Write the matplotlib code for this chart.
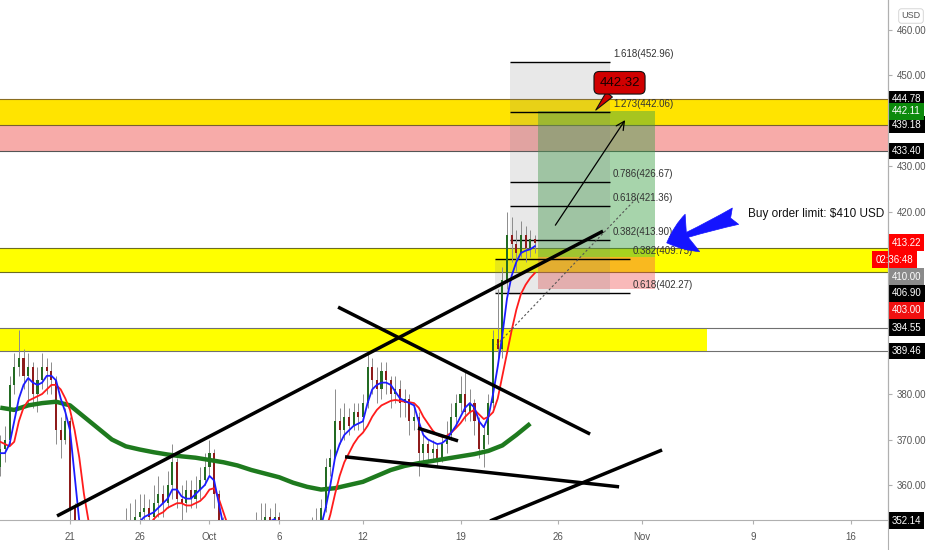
import matplotlib
matplotlib.use("Agg")
import matplotlib.pyplot as plt
import matplotlib.dates as mdates
from matplotlib import font_manager
from matplotlib.transforms import blended_transform_factory
from matplotlib.patches import FancyArrowPatch
from matplotlib.lines import Line2D
from datetime import datetime

# ---------------- data ----------------
base = datetime(2020, 9, 16)
bar_hours = 8
open0 = 364
closes = [368, 370, 382, 386, 388, 384, 386, 380, 383, 386, 385, 383, 372, 370, 374,
          355, 343, 341, 342, 344, 343, 335, 325, 322, 330, 340, 348, 352, 350, 353,
          354, 355, 353, 356, 358, 356, 360, 365, 357, 356, 359, 357, 359, 361, 364,
          367, 358, 352, 345, 342, 346, 348, 346, 347, 349, 351, 352, 353, 352, 353,
          350, 345, 342, 341, 339, 341, 345, 349, 352, 355, 364, 366, 374, 372, 375,
          373, 376, 375, 378, 386, 383, 381, 385, 383, 380, 381, 378, 379, 374, 375,
          367, 369, 367, 368, 366, 369, 371, 375, 378, 380, 376, 378, 374, 368, 371,
          378, 392, 390, 405, 415, 413, 411, 415, 412, 414, 413.22]
highs = [371, 373, 384, 389, 394, 390, 389, 387, 386, 389, 388, 387, 384, 375, 377,
         375, 356, 346, 347, 348, 349, 345, 337, 328, 334, 344, 352, 355, 356, 357,
         358, 358, 357, 360, 362, 360, 363, 369, 366, 360, 361, 361, 362, 364, 367,
         370, 368, 359, 353, 347, 349, 351, 350, 350, 352, 354, 356, 356, 355, 356,
         354, 352, 347, 344, 344, 344, 348, 353, 355, 357, 366, 368, 381, 377, 378,
         377, 378, 378, 380, 389, 388, 386, 387, 387, 384, 384, 383, 381, 380, 377,
         376, 371, 370, 370, 369, 371, 374, 378, 380, 384, 385, 381, 379, 375, 373,
         380, 394, 403, 408, 420, 419, 416, 418, 417, 416, 415]
lows = [362, 365, 369, 380, 384, 381, 378, 377, 376, 381, 380, 380, 369, 366, 369,
        350, 338, 336, 335, 339, 340, 330, 318, 317, 318, 328, 338, 345, 346, 347,
        349, 351, 350, 351, 353, 353, 355, 357, 355, 352, 354, 355, 355, 357, 360,
        362, 355, 348, 340, 337, 339, 344, 343, 344, 345, 347, 349, 349, 349, 350,
        346, 341, 338, 336, 337, 338, 339, 343, 347, 349, 354, 362, 366, 369, 370,
        371, 372, 372, 372, 377, 380, 378, 379, 380, 377, 378, 375, 375, 371, 372,
        362, 365, 365, 365, 364, 365, 367, 370, 373, 376, 374, 374, 371, 366, 364,
        369, 377, 387, 388, 403, 409, 407, 410, 409, 410, 411]
ema_fast = [367, 367, 369, 374, 379, 382, 383.5, 382.5, 382, 382.5, 384, 384, 383, 379, 376,
            372, 362, 352, 346, 344, 343, 340, 333, 327, 327, 332, 339, 345, 348, 350,
            352, 353, 353.5, 354, 355, 356, 357, 359, 359, 357.5, 357, 357, 358, 359, 360,
            362, 361, 356, 351, 347, 346, 346, 346, 347, 348, 349, 350.5, 351.5, 352, 352.5,
            351, 348, 345, 343, 341, 341, 342, 345, 348, 351, 355, 360, 366, 369, 371,
            372, 373, 373.5, 374, 378, 381, 382, 382.5, 382.5, 382, 380.5, 379, 378.5, 378, 377.5,
            374, 371, 370, 369.5, 369, 369.2, 370, 371.5, 373, 375, 377, 378, 377, 374, 372.7,
            375, 380, 386, 393, 401, 406, 409, 411, 411.5, 411.8, 412.5]
ema_slow = [369.5, 369, 368.5, 369.5, 374, 377, 378.5, 379, 379.5, 380, 381, 382, 382, 381, 379,
            376.5, 372, 366, 358, 352, 348, 345, 340, 334, 331, 331, 334, 338, 342, 345,
            347, 349, 351, 352.5, 353.5, 354, 355, 355.5, 356, 356, 355.5, 355.5, 356, 356.5, 357.5,
            359, 359.3, 357, 354, 351, 349, 348, 347.5, 347, 347.5, 348, 349, 350, 350.5, 351,
            350.5, 349.5, 347.5, 345.5, 344, 343, 343, 344, 345.5, 347, 350, 353.5, 358, 362, 365,
            367, 369, 370.5, 371.5, 373, 375, 376.5, 377.5, 378, 378.5, 378.7, 378.5, 378.3, 378.2, 378,
            377, 375, 373.5, 372, 371, 370.6, 370.8, 371.5, 372.5, 373.6, 375, 376, 376.5, 375.5, 374.5,
            375, 376, 379, 384, 389, 394, 398.5, 402, 404, 405.5, 406.6]
sma_daily = [377, 376.5, 377.5, 378, 378.3, 377.5, 375, 372.5, 370, 368.5, 367.8, 367.2, 366.7,
             366.3, 366, 365.5, 365, 364.3, 363.3, 362.5, 361.7, 360.5, 359.6, 359, 359.3, 360,
             360.7, 362, 363.3, 364.2, 364.8, 365.3, 365.8, 366.3, 366.8, 367.5, 368.7, 371, 373.5]

# horizontal zones (price levels)
zone_top = (439.18, 444.78)
zone_pink = (433.40, 439.18)
zone_mid = (406.90, 412.10)
zone_low = (389.46, 394.55)
zone_low_end_day = 50.7

# trend lines: (start day, start price, end day, end price), days after base
trend_lines = [(4.07, 353.2, 43.22, 415.8),
               (24.22, 399.1, 42.29, 371.2),
               (29.95, 372.5, 32.82, 369.7),
               (24.72, 366.2, 44.37, 359.6),
               (35.12, 352.1, 47.45, 367.7)]

# fibonacci extension
fib_levels = [1.618, 1.273, 0.786, 0.618, 0.382]
fib_prices = [452.96, 442.06, 426.67, 421.36, 413.90]
fib_zero_price = 401.83
fib_days = (36.55, 43.72)
fib2_levels = [0.382, 0.618]
fib2_prices = [409.75, 402.27]
fib2_days = (35.47, 45.15)

# long position
entry, target, stop = 410.00, 442.11, 403.00
pos_days = (38.56, 46.95)

callout_value = 442.32
countdown = "02:36:48"
annotation_text = "Buy order limit: $410 USD"

axis_labels = [  # price, text, color, stacked
    (444.78, "444.78", "#000000", False),
    (439.18, "439.18", "#000000", False),
    (442.11, "442.11", "#0b8a0b", False),
    (433.40, "433.40", "#000000", False),
    (413.22, "413.22", "#ff0000", True),
    (413.22, countdown, "#ff0000", True),
    (410.00, "410.00", "#8a8a8a", True),
    (406.90, "406.90", "#000000", True),
    (403.00, "403.00", "#f01010", True),
    (394.55, "394.55", "#000000", True),
    (389.46, "389.46", "#000000", True),
    (352.14, "352.14", "#000000", False),
]

date_ticks = [datetime(2020, 9, 21), datetime(2020, 9, 26), datetime(2020, 10, 1),
              datetime(2020, 10, 6), datetime(2020, 10, 12), datetime(2020, 10, 19),
              datetime(2020, 10, 26), datetime(2020, 11, 1), datetime(2020, 11, 9),
              datetime(2020, 11, 16)]
date_labels = ["21", "26", "Oct", "6", "12", "19", "26", "Nov", "9", "16"]
price_ticks = [360, 370, 380, 390, 400, 410, 420, 430, 440, 450, 460]
price_ticks_hidden = [390, 400, 410, 440]

# ---------------- fonts ----------------
names = {f.name for f in font_manager.fontManager.ttflist}
if "Liberation Sans Narrow" in names:
    FAM = ["Liberation Sans Narrow", "DejaVu Sans"]
elif "Liberation Sans" in names:
    FAM = ["Liberation Sans", "DejaVu Sans"]
else:
    FAM = ["DejaVu Sans"]
FONT = dict(family=FAM)

# ---------------- helpers ----------------
b = mdates.date2num(base)
def D(days):
    return b + days

times = [b + i * bar_hours / 24 for i in range(len(closes))]
opens = [open0] + closes[:-1]
sma_times = [b + i for i in range(len(sma_daily))]

fig = plt.figure(figsize=(9.32, 5.5), dpi=100)
fig.patch.set_facecolor("white")
ax = fig.add_axes([0, 30 / 550, 888 / 932, 520 / 550])
ax.set_xlim(D(-0.02), D(63.65))
ax.set_ylim(352.31, 466.59)

# zones
ax.axhspan(*zone_top, fc="#ffe400", ec="none", zorder=1)
ax.axhspan(*zone_pink, fc="#f7aba9", ec="none", zorder=1)
ax.axhspan(*zone_mid, fc="#ffff00", ec="none", zorder=1)
ax.fill_between([D(-1), D(zone_low_end_day)], zone_low[0], zone_low[1], fc="#ffff00", ec="none", zorder=1)
for lvl, col in [(zone_top[1], "#8a6d20"), (zone_top[0], "#7a6030"), (zone_pink[0], "#555555"),
                 (zone_mid[1], "#6d6d20"), (zone_mid[0], "#6d6d20"),
                 (zone_low[1], "#707070"), (zone_low[0], "#707070")]:
    ax.axhline(lvl, color=col, lw=0.8, zorder=1.5)

# position tool
ax.fill_between([D(pos_days[0]), D(pos_days[1])], entry, target, fc="#3ca046", alpha=0.45, ec="none", zorder=2)
ax.fill_between([D(pos_days[0]), D(pos_days[1])], stop, entry, fc="#f05050", alpha=0.40, ec="none", zorder=2)

# fib backgrounds and lines
ax.fill_between([D(fib_days[0]), D(fib_days[1])], fib_zero_price, fib_prices[0], fc="#808080", alpha=0.18, ec="none", zorder=2.2)
ax.fill_between([D(fib2_days[0]), D(fib_days[0])], fib2_prices[1], fib2_prices[0], fc="#808080", alpha=0.18, ec="none", zorder=2.2)
for lvl, p in zip(fib_levels, fib_prices):
    ax.hlines(p, D(fib_days[0]), D(fib_days[1]), color="black", lw=1.0, zorder=3)
    ax.annotate(f"{lvl:.3f}({p:.2f})", (D(fib_days[1]) + 0.2, p), xytext=(0, 2), textcoords="offset points",
                ha="left", va="bottom", fontsize=7, color="#333333", zorder=8, **FONT)
for lvl, p in zip(fib2_levels, fib2_prices):
    ax.hlines(p, D(fib2_days[0]), D(fib2_days[1]), color="black", lw=1.0, zorder=3)
    ax.annotate(f"{lvl:.3f}({p:.2f})", (D(fib2_days[1]) + 0.2, p), xytext=(0, 2), textcoords="offset points",
                ha="left", va="bottom", fontsize=7, color="#333333", zorder=8, **FONT)

# candles
up = [c >= o for o, c in zip(opens, closes)]
ax.vlines(times, lows, highs, color="#8c8c8c", lw=0.7, zorder=3.5)
body_bot = [min(o, c) for o, c in zip(opens, closes)]
body_h = [max(abs(c - o), 0.3) for o, c in zip(opens, closes)]
ax.bar(times, body_h, bottom=body_bot, width=0.15,
       color=["#236b23" if u else "#8e1b1b" for u in up], zorder=3.6, linewidth=0)

# moving averages
ax.plot(sma_times, sma_daily, color="#1e7a1e", lw=3.2, solid_capstyle="butt", zorder=4)
ax.plot(times, ema_slow, color="#ff1c1c", lw=1.3, zorder=4.2)
ax.plot(times, ema_fast, color="#1c1cff", lw=1.3, zorder=4.3)

# trend lines
for d0, p0, d1, p1 in trend_lines:
    ax.plot([D(d0), D(d1)], [p0, p1], color="black", lw=2.5, solid_capstyle="butt", zorder=6)

# dashed projection
ax.plot([D(35.6), D(45.7)], [390.8, 423.3], color="#555555", lw=0.8, ls=(0, (2, 2)), zorder=6)

# thin black arrow
ax.annotate("", xy=(D(44.8), 440.2), xytext=(D(39.8), 417.1),
            arrowprops=dict(arrowstyle="->,head_length=0.6,head_width=0.3", color="black", lw=0.9,
                            shrinkA=0, shrinkB=0), zorder=7)

# callout
ax.annotate(f"{callout_value:.2f}", xy=(D(42.7), 442.4), xytext=(D(44.4), 448.4),
            ha="center", va="center", fontsize=9.5, color="#1a0000", zorder=9,
            bbox=dict(boxstyle="round,pad=0.4", fc="#d00000", ec="#111111", lw=0.8),
            arrowprops=dict(arrowstyle="wedge,tail_width=0.6", fc="#d00000", ec="#111111", lw=0.8,
                            shrinkA=0, shrinkB=0), **FONT)

# blue arrow
arr = FancyArrowPatch((D(52.9), 419.3), (D(47.6), 413.0),
                      arrowstyle="fancy,head_length=0.55,head_width=0.8,tail_width=0.35",
                      mutation_scale=36, fc="#1414ff", ec="#1414ff", lw=0.5, zorder=9)
ax.add_patch(arr)
ax.text(D(53.6), 419.6, annotation_text, ha="left", va="center", fontsize=8.5, color="#111111", zorder=9, **FONT)

# axes styling
for s in ["left", "top"]:
    ax.spines[s].set_visible(False)
ax.spines["right"].set_color("#b0b0b0")
ax.spines["bottom"].set_color("#b0b0b0")
ax.yaxis.tick_right()
ax.set_yticks(price_ticks)
ax.set_yticklabels(["" if p in price_ticks_hidden else f"{p:.2f}" for p in price_ticks])
ax.set_xticks([mdates.date2num(d) for d in date_ticks])
ax.set_xticklabels(date_labels)
ax.tick_params(axis="y", colors="#b0b0b0", labelcolor="#555555", length=3, pad=3, labelsize=7)
ax.tick_params(axis="x", colors="#b0b0b0", labelcolor="#555555", length=3, pad=6, labelsize=7)
for lab in ax.get_xticklabels() + ax.get_yticklabels():
    lab.set_fontfamily(FAM)
fig.add_artist(Line2D([888 / 932, 888 / 932], [0, 1], color="#b0b0b0", lw=0.8))

# price labels on the axis
trans = blended_transform_factory(ax.transAxes, ax.transData)
gap = 3.7
prev = None
for price, txt, col, stacked in axis_labels:
    y = price
    if stacked and prev is not None and prev - y < gap:
        y = prev - gap
    if stacked:
        prev = y
    xpos = 0.986 if ":" in txt else 1.004
    ax.text(xpos, y, txt, transform=trans, ha="left", va="center", fontsize=7, color="white",
            bbox=dict(boxstyle="square,pad=0.35", fc=col, ec="none"), clip_on=False, zorder=20, **FONT)

fig.text(911 / 932, 1 - 16 / 550, "USD", ha="center", va="center", fontsize=6.5, color="#555555",
         bbox=dict(boxstyle="round,pad=0.3", fc="white", ec="#d0d0d0", lw=0.6), **FONT)

fig.savefig("out.png", dpi=100, facecolor="white")
